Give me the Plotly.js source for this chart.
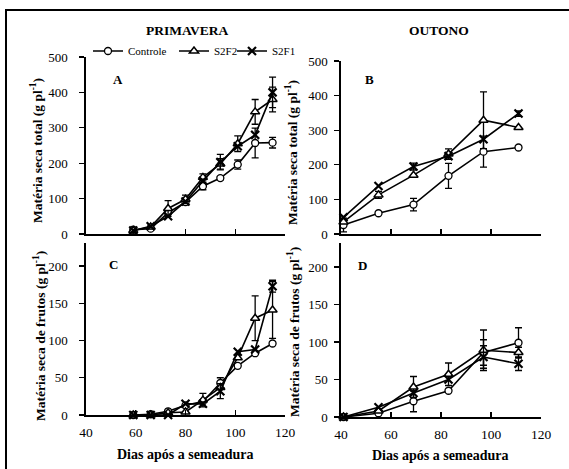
<!DOCTYPE html>
<html>
<head>
<meta charset="utf-8">
<script src="https://cdn.plot.ly/plotly-3.0.1.min.js"></script>
<style>html,body{margin:0;padding:0;background:#fff;}#chart{width:569px;height:469px;}</style>
</head>
<body>
<div id="chart"></div>
<script>
// ---- Data ----
var diasPrim = [59, 66, 73, 80, 87, 94, 101, 108, 115];
var diasOut = [41, 55, 69, 83, 97, 111];

// Panel A: Primavera, matéria seca total
var ctrlA = [12, 15, 60, 90, 135, 158, 196, 257, 258];
var ctrlAerr = [NaN, NaN, NaN, 8, 10, 5, 13, 42, 15];
var s2f2A = [10, 20, 72, 98, 160, 198, 255, 345, 380];
var s2f2Aerr = [NaN, 5, 22, 12, 10, 15, 22, 35, 35];
var s2f1A = [10, 22, 50, 92, 150, 203, 248, 280, 400];
var s2f1Aerr = [NaN, NaN, NaN, NaN, NaN, 22, NaN, NaN, 43];

// Panel B: Outono, matéria seca total
var ctrlB = [26, 60, 85, 168, 238, 250];
var ctrlBerr = [20, NaN, 18, 36, 45, NaN];
var s2f2B = [35, 113, 170, 231, 329, 308];
var s2f2Berr = [NaN, 10, NaN, 15, 82, NaN];
var s2f1B = [48, 139, 195, 225, 274, 348];
var s2f1Berr = [NaN, NaN, 10, NaN, NaN, 8];

// Panel C: Primavera, matéria seca de frutos
var ctrlC = [0, 1, 5, 13, 18, 43, 66, 83, 96];
var ctrlCerr = [NaN, NaN, NaN, NaN, NaN, 7, NaN, NaN, NaN];
var s2f2C = [0, 0, 3, 4, 20, 37, 77, 130, 141];
var s2f2Cerr = [NaN, NaN, NaN, NaN, 9, NaN, NaN, 30, 38];
var s2f1C = [0, 0, 0, 15, 15, 32, 85, 88, 173];
var s2f1Cerr = [NaN, NaN, NaN, NaN, NaN, 10, NaN, NaN, 8];

// Panel D: Outono, matéria seca de frutos
var ctrlD = [0, 5, 21, 35, 86, 99];
var ctrlDerr = [NaN, NaN, 14, NaN, 17, 20];
var s2f2D = [0, 8, 40, 57, 89, 86];
var s2f2Derr = [NaN, NaN, 14, 15, 27, 7];
var s2f1D = [0, 13, 32, 50, 80, 71];
var s2f1Derr = [NaN, NaN, NaN, NaN, 15, 9];

var seriesNames = ['Controle', 'S2F2', 'S2F1'];
var xTickVals = [40, 60, 80, 100, 120];
var seasonTitles = ['PRIMAVERA', 'OUTONO'];
var panelLetters = ['A', 'B', 'C', 'D'];
var yTitleTotal = 'Matéria seca total (g pl<sup>-1</sup>)';
var yTitleFrutos = 'Matéria seca de frutos (g pl<sup>-1</sup>)';
var xTitle = 'Dias após a semeadura';

// ---- Styles ----
var FONT = '"Liberation Serif", "Times New Roman", serif';
var markerStyles = [
  {symbol: 'circle', size: 7, color: '#fff', line: {color: '#000', width: 1.3}},
  {symbol: 'triangle-up', size: 8, color: '#fff', line: {color: '#000', width: 1.5}},
  {symbol: 'x-thin-open', size: 8, color: '#000', line: {color: '#000', width: 2.2}}
];
var legendIds = ['legend', 'legend2', 'legend3'];

function mk(x, y, err, idx, xa, ya, show) {
  return {
    x: x, y: y, type: 'scatter', mode: 'lines+markers',
    name: seriesNames[idx], showlegend: show, legend: legendIds[idx],
    xaxis: xa, yaxis: ya,
    line: {color: '#000', width: 1.6},
    marker: markerStyles[idx],
    error_y: {type: 'data', array: err, visible: true, color: '#000', thickness: 1.3, width: 3.5},
    cliponaxis: false
  };
}

var traces = [
  mk(diasPrim, ctrlA, ctrlAerr, 0, 'x', 'y', true),
  mk(diasPrim, s2f2A, s2f2Aerr, 1, 'x', 'y', true),
  mk(diasPrim, s2f1A, s2f1Aerr, 2, 'x', 'y', true),
  mk(diasOut, ctrlB, ctrlBerr, 0, 'x2', 'y2', false),
  mk(diasOut, s2f2B, s2f2Berr, 1, 'x2', 'y2', false),
  mk(diasOut, s2f1B, s2f1Berr, 2, 'x2', 'y2', false),
  mk(diasPrim, ctrlC, ctrlCerr, 0, 'x3', 'y3', false),
  mk(diasPrim, s2f2C, s2f2Cerr, 1, 'x3', 'y3', false),
  mk(diasPrim, s2f1C, s2f1Cerr, 2, 'x3', 'y3', false),
  mk(diasOut, ctrlD, ctrlDerr, 0, 'x4', 'y4', false),
  mk(diasOut, s2f2D, s2f2Derr, 1, 'x4', 'y4', false),
  mk(diasOut, s2f1D, s2f1Derr, 2, 'x4', 'y4', false)
];

var W = 569, H = 469;
function px(v) { return v / W; }
function py(v) { return 1 - v / H; }

function xaxis(dom, anchor, labels) {
  return {
    domain: dom, anchor: anchor, range: [40, 120], tickvals: xTickVals,
    showticklabels: labels, ticks: 'inside', ticklen: 5, tickwidth: 1.3, tickcolor: '#000',
    showline: true, linecolor: '#000', linewidth: 1.6, showgrid: false, zeroline: false,
    tickfont: {family: FONT, size: 13.5, color: '#000'}, ticklabelstandoff: 4, fixedrange: true
  };
}
function yaxis(dom, anchor, range, dtick, standoff) {
  return {
    domain: dom, anchor: anchor, range: range, dtick: dtick, tick0: 0,
    ticks: 'outside', ticklen: 5, tickwidth: 1.3, tickcolor: '#000',
    showline: true, linecolor: '#000', linewidth: 1.6, showgrid: false, zeroline: false,
    tickfont: {family: FONT, size: 13, color: '#000'}, ticklabelstandoff: standoff, fixedrange: true
  };
}
function leg(xpix) {
  return {
    orientation: 'h', x: px(xpix), y: py(51), xanchor: 'left', yanchor: 'middle',
    font: {family: FONT, size: 11, color: '#000'}, bgcolor: 'rgba(0,0,0,0)',
    itemwidth: 30, borderwidth: 0
  };
}

var xA = [px(86), px(285)], xB = [px(341), px(541)];

function ann(text, x, y, size, angle) {
  return {text: text, xref: 'paper', yref: 'paper', x: px(x), y: py(y),
          xanchor: 'center', yanchor: 'middle', showarrow: false,
          textangle: angle || 0, font: {family: FONT, size: size, color: '#000'}};
}

var layout = {
  width: W, height: H,
  margin: {l: 0, r: 0, t: 0, b: 0},
  paper_bgcolor: '#fff', plot_bgcolor: 'rgba(0,0,0,0)',
  font: {family: FONT, color: '#000'},
  showlegend: true,
  legend: leg(88),
  legend2: leg(174),
  legend3: leg(232),
  xaxis: xaxis(xA, 'y', false),
  yaxis: yaxis([py(234), py(57)], 'x', [0, 500], 100, 9),
  xaxis2: xaxis(xB, 'y2', false),
  yaxis2: yaxis([py(234), py(61)], 'x2', [0, 500], 100, 4),
  xaxis3: xaxis(xA, 'y3', true),
  yaxis3: yaxis([py(415), py(243)], 'x3', [0, 231], 50, 9),
  xaxis4: xaxis(xB, 'y4', true),
  yaxis4: yaxis([py(417), py(243)], 'x4', [0, 232], 50, 4),
  shapes: [
    {type: 'line', xref: 'paper', yref: 'paper', x0: px(5), x1: 1, y0: py(10), y1: py(10), line: {color: '#000', width: 2}},
    {type: 'line', xref: 'paper', yref: 'paper', x0: px(6), x1: px(6), y0: py(10), y1: 0, line: {color: '#000', width: 2}}
  ],
  annotations: [
    ann('<b>' + seasonTitles[0] + '</b>', 187, 30, 13.5),
    ann('<b>' + seasonTitles[1] + '</b>', 439, 30, 13.5),
    ann('<b>' + panelLetters[0] + '</b>', 118, 80, 13),
    ann('<b>' + panelLetters[1] + '</b>', 369, 80, 13),
    ann('<b>' + panelLetters[2] + '</b>', 113, 264, 13),
    ann('<b>' + panelLetters[3] + '</b>', 363, 265, 13),
    ann('<b>' + yTitleTotal + '</b>', 36, 151, 13.5, -90),
    ann('<b>' + yTitleTotal + '</b>', 291, 153, 13.5, -90),
    ann('<b>' + yTitleFrutos + '</b>', 39, 336, 13.5, -90),
    ann('<b>' + yTitleFrutos + '</b>', 293, 332, 13.5, -90),
    ann('<b>' + xTitle + '</b>', 185, 454, 14),
    ann('<b>' + xTitle + '</b>', 440, 455, 14)
  ]
};

Plotly.newPlot('chart', traces, layout, {staticPlot: true, displayModeBar: false});
</script>
</body>
</html>
